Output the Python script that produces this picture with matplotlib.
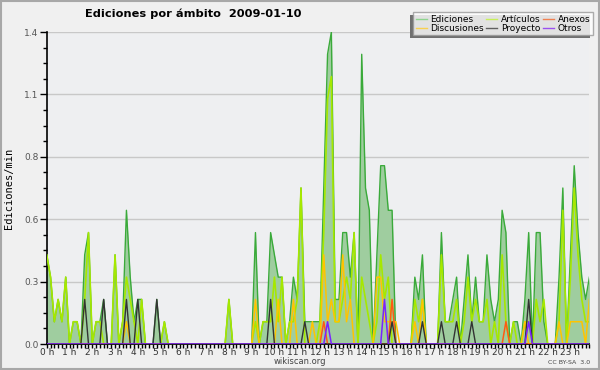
import numpy as np
import matplotlib.pyplot as plt
from matplotlib.patches import Rectangle
from matplotlib.lines import Line2D
from matplotlib.ticker import MultipleLocator

# ediciones por minuto, pasos de 10 min (6 por hora)
ediciones = [
    0.4, 0.3, 0.1, 0.2, 0.1, 0.3,   # 0 h
    0.0, 0.1, 0.1, 0.0, 0.4, 0.5,   # 1 h
    0.0, 0.1, 0.1, 0.2, 0.0, 0.0,   # 2 h
    0.4, 0.0, 0.1, 0.6, 0.3, 0.1,   # 3 h
    0.2, 0.2, 0.0, 0.0, 0.0, 0.2,   # 4 h
    0.0, 0.1, 0.0, 0.0, 0.0, 0.0,   # 5 h
    0.0, 0.0, 0.0, 0.0, 0.0, 0.0,   # 6 h
    0.0, 0.0, 0.0, 0.0, 0.0, 0.0,   # 7 h
    0.2, 0.0, 0.0, 0.0, 0.0, 0.0,   # 8 h
    0.0, 0.5, 0.0, 0.1, 0.1, 0.5,   # 9 h
    0.4, 0.3, 0.3, 0.0, 0.1, 0.3,   # 10 h
    0.2, 0.7, 0.1, 0.1, 0.1, 0.1,   # 11 h
    0.1, 0.7, 1.3, 1.4, 0.2, 0.2,   # 12 h
    0.5, 0.5, 0.3, 0.5, 0.0, 1.3,   # 13 h
    0.7, 0.6, 0.0, 0.4, 0.8, 0.8,   # 14 h
    0.6, 0.6, 0.0, 0.0, 0.0, 0.0,   # 15 h
    0.0, 0.3, 0.2, 0.4, 0.0, 0.0,   # 16 h
    0.0, 0.0, 0.5, 0.1, 0.1, 0.2,   # 17 h
    0.3, 0.0, 0.2, 0.4, 0.1, 0.3,   # 18 h
    0.1, 0.1, 0.4, 0.2, 0.1, 0.2,   # 19 h
    0.6, 0.5, 0.0, 0.1, 0.1, 0.0,   # 20 h
    0.2, 0.5, 0.0, 0.5, 0.5, 0.1,   # 21 h
    0.0, 0.0, 0.0, 0.3, 0.7, 0.0,   # 22 h
    0.4, 0.8, 0.5, 0.3, 0.2, 0.3,   # 23 h
]

articulos = [
    0.4, 0.3, 0.1, 0.2, 0.1, 0.3,
    0.0, 0.1, 0.1, 0.0, 0.2, 0.5,
    0.0, 0.1, 0.1, 0.0, 0.0, 0.0,
    0.4, 0.0, 0.1, 0.3, 0.2, 0.1,
    0.0, 0.2, 0.0, 0.0, 0.0, 0.0,
    0.0, 0.1, 0.0, 0.0, 0.0, 0.0,
    0.0, 0.0, 0.0, 0.0, 0.0, 0.0,
    0.0, 0.0, 0.0, 0.0, 0.0, 0.0,
    0.2, 0.0, 0.0, 0.0, 0.0, 0.0,
    0.0, 0.1, 0.0, 0.1, 0.1, 0.1,
    0.3, 0.1, 0.3, 0.0, 0.1, 0.1,
    0.2, 0.7, 0.0, 0.0, 0.0, 0.0,
    0.1, 0.5, 1.1, 1.2, 0.1, 0.1,
    0.2, 0.3, 0.2, 0.5, 0.0, 0.3,
    0.2, 0.1, 0.0, 0.1, 0.4, 0.2,
    0.3, 0.0, 0.0, 0.0, 0.0, 0.0,
    0.0, 0.2, 0.1, 0.2, 0.0, 0.0,
    0.0, 0.0, 0.4, 0.1, 0.1, 0.1,
    0.2, 0.0, 0.1, 0.3, 0.1, 0.2,
    0.1, 0.1, 0.2, 0.0, 0.1, 0.0,
    0.4, 0.1, 0.0, 0.1, 0.0, 0.0,
    0.1, 0.1, 0.0, 0.2, 0.1, 0.2,
    0.0, 0.0, 0.0, 0.1, 0.6, 0.0,
    0.3, 0.7, 0.4, 0.2, 0.1, 0.1,
]

discusiones = [
    0, 0, 0, 0, 0, 0,
    0, 0, 0, 0, 0, 0,
    0, 0, 0, 0, 0, 0,
    0, 0, 0, 0.1, 0, 0,
    0, 0, 0, 0, 0, 0,
    0, 0, 0, 0, 0, 0,
    0, 0, 0, 0, 0, 0,
    0, 0, 0, 0, 0, 0,
    0, 0, 0, 0, 0, 0,
    0, 0.2, 0, 0, 0, 0,
    0, 0.2, 0, 0, 0, 0.2,
    0, 0, 0, 0, 0.1, 0,
    0, 0.4, 0.1, 0.2, 0.1, 0.1,
    0.4, 0.1, 0.2, 0, 0, 0,
    0, 0, 0, 0.3, 0.3, 0.1,
    0.1, 0.1, 0.1, 0, 0, 0,
    0, 0.1, 0, 0.2, 0, 0,
    0, 0, 0, 0, 0, 0,
    0, 0, 0, 0, 0, 0,
    0, 0, 0, 0, 0, 0,
    0, 0, 0, 0, 0, 0,
    0.1, 0, 0, 0, 0, 0,
    0, 0, 0, 0.1, 0, 0,
    0.1, 0.1, 0.1, 0.1, 0, 0.2,
]

proyecto = [
    0, 0, 0, 0, 0, 0,
    0, 0, 0, 0, 0.2, 0,
    0, 0, 0, 0.2, 0, 0,
    0, 0, 0, 0.2, 0, 0,
    0.2, 0, 0, 0, 0, 0.2,
    0, 0, 0, 0, 0, 0,
    0, 0, 0, 0, 0, 0,
    0, 0, 0, 0, 0, 0,
    0, 0, 0, 0, 0, 0,
    0, 0, 0, 0, 0, 0.2,
    0, 0, 0, 0, 0, 0,
    0, 0, 0.1, 0, 0, 0,
    0, 0, 0, 0, 0, 0,
    0, 0, 0, 0, 0, 0,
    0, 0, 0, 0, 0, 0,
    0, 0.1, 0, 0, 0, 0,
    0, 0, 0, 0.1, 0, 0,
    0, 0, 0.1, 0, 0, 0,
    0.1, 0, 0, 0, 0.1, 0,
    0, 0, 0, 0, 0, 0,
    0, 0, 0, 0, 0, 0,
    0, 0.2, 0, 0, 0, 0,
    0, 0, 0, 0, 0, 0,
    0, 0, 0, 0, 0, 0,
]

anexos = [0.0] * 144
anexos[73] = 0.1
anexos[91] = 0.2
anexos[121] = 0.1

otros = [0.0] * 144
otros[74] = 0.1
otros[89] = 0.2
otros[127] = 0.1

horas = ['%d h' % h for h in range(24)]

x = np.arange(len(ediciones))

fig = plt.figure(figsize=(6, 3.7), dpi=100, facecolor='#f0f0f0')
ax = fig.add_axes([46.75/600, 1-344/370, (589.4-46.75)/600, (344-32)/370])
ax.set_facecolor('#eeeff1')

ax.fill_between(x, ediciones, color='#9fcd9f', lw=0, zorder=2)
ax.plot(x, ediciones, color='#3aaa3a', lw=1.0, zorder=3)
ax.plot(x, articulos, color='#a6e800', lw=1.2, zorder=4)
ax.plot(x, discusiones, color='#ffc400', lw=1.1, zorder=5)
ax.plot(x, anexos, color='#ff5a14', lw=1.1, zorder=6)
ax.plot(x, proyecto, color='#333333', lw=1.0, zorder=7)
ax.plot(x, otros, color='#7a22ff', lw=1.1, zorder=8)

ymax = 1.4
yt = np.linspace(0, ymax, 6)
ax.set_ylim(0, ymax)
ax.set_yticks(yt)
ax.set_yticklabels(['%.1f' % v for v in yt])
ax.yaxis.set_minor_locator(MultipleLocator(ymax/20))
ax.set_xlim(0, 143)
ax.set_xticks(np.arange(0, 144, 6))
ax.set_xticklabels(horas)
ax.xaxis.set_minor_locator(MultipleLocator(1))

ax.grid(axis='y', color='#c8c8c8', lw=1, zorder=1)
for s in ['top', 'right']:
    ax.spines[s].set_visible(False)
ax.spines['left'].set_linewidth(1.2)
ax.spines['bottom'].set_linewidth(1.2)
ax.tick_params(axis='y', which='major', length=5, width=1, labelsize=6.5,
               labelcolor='#555555', pad=1)
ax.tick_params(axis='y', which='minor', length=3, width=1)
ax.tick_params(axis='x', which='both', length=3, width=1, labelsize=6.5,
               labelcolor='#333333', pad=0)

ax.set_ylabel('Ediciones/min', family='DejaVu Sans Mono', fontsize=7.5)
ax.yaxis.set_label_coords(-0.061, 0.5)

fig.text(85/600, 1-14/370, 'Ediciones por ámbito  2009-01-10', fontsize=8.2,
         fontweight='bold', ha='left', va='center')
fig.text(0.5, 1-362/370, 'wikiscan.org', fontsize=6, color='#444444',
         ha='center', va='center')
fig.text(590/600, 1-362/370, 'CC BY-SA  3.0', fontsize=4.5, color='#444444',
         ha='right', va='center')

handles = [
    Line2D([], [], color='#8fd48f', lw=1),
    Line2D([], [], color='#f8d050', lw=1),
    Line2D([], [], color='#c8f05a', lw=1),
    Line2D([], [], color='#606060', lw=1),
    Line2D([], [], color='#f08050', lw=1),
    Line2D([], [], color='#9a50f0', lw=1),
]
labels = ['Ediciones', 'Discusiones', 'Artículos', 'Proyecto', 'Anexos', 'Otros']
leg = fig.legend(handles, labels, ncol=3, loc='upper right',
                 bbox_to_anchor=(593/600, 1-12/370), fontsize=6.5,
                 frameon=True, fancybox=False, borderaxespad=0,
                 handlelength=1.2, handletextpad=0.4, columnspacing=0.3,
                 labelspacing=0.0, borderpad=0.3)
leg.get_frame().set_edgecolor('#999999')
leg.get_frame().set_linewidth(1)
leg.get_frame().set_facecolor('white')

fig.canvas.draw()
bb = leg.get_window_extent().transformed(fig.transFigure.inverted())
fig.patches.append(Rectangle((bb.x0 - 3/600, bb.y0 - 3/370), bb.width, bb.height,
                             transform=fig.transFigure, facecolor='#707070',
                             edgecolor='none', zorder=4))
fig.patches.append(Rectangle((0.001, 0.002), 0.997, 0.995, transform=fig.transFigure,
                             fill=False, edgecolor='#a8a8a8', lw=1.5, zorder=10))

fig.savefig('out.png', dpi=100, facecolor=fig.get_facecolor())
